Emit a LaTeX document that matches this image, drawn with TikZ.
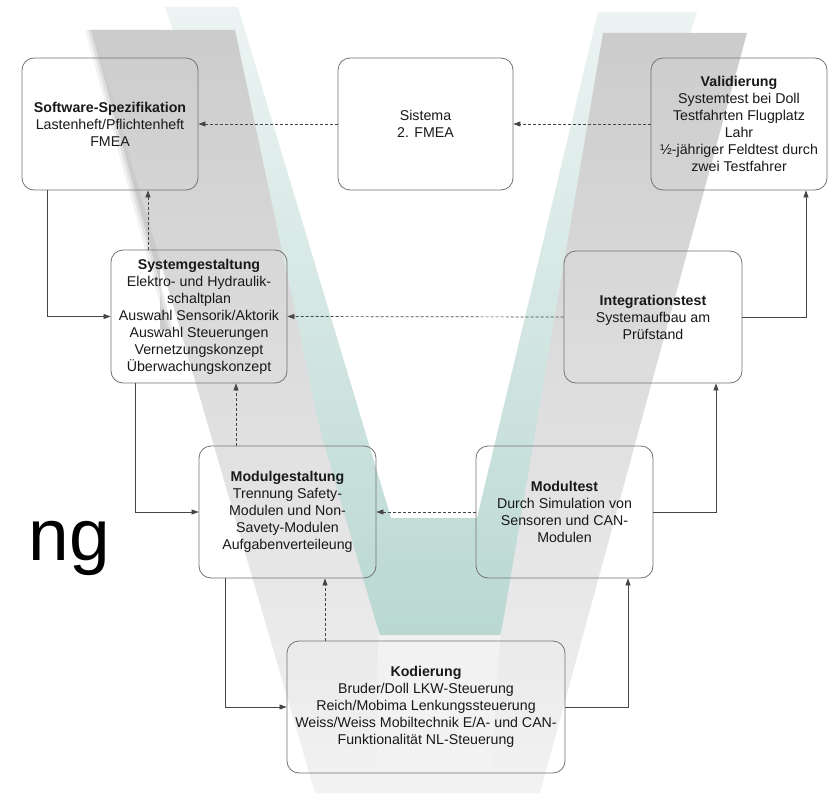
\documentclass[tikz,border=0pt]{standalone}
\usepackage{fontspec}
\setmainfont{Liberation Sans}
\usetikzlibrary{arrows.meta,calc}
\definecolor{tealV}{RGB}{186,216,210}
\definecolor{tealTop}{RGB}{236,244,243}
\definecolor{grayTop}{RGB}{204,204,204}
\definecolor{grayMid}{RGB}{224,224,224}
\definecolor{grayBot}{RGB}{242,242,242}
\definecolor{boxline}{RGB}{115,115,115}
\definecolor{txt}{RGB}{25,25,25}
\definecolor{conn}{RGB}{70,70,70}
\begin{document}
\begin{tikzpicture}[x=1pt,y=-1pt,
  box/.style={draw=boxline, line width=0.8pt, rounded corners=12pt, inner sep=2pt,
    align=center, font=\fontsize{14.2}{17}\selectfont, text=txt},
  solidc/.style={draw=conn, line width=0.7pt, -{Triangle[length=7pt,width=5pt]}},
  dashc/.style={draw=conn, line width=0.7pt, dash pattern=on 3pt off 2pt, -{Triangle[length=7pt,width=5pt]}}]
\useasboundingbox (0,0) rectangle (836,800);
\fill[white] (0,0) rectangle (836,800);
% --- V background ---
\fill[grayBot] (360,600) -- (515,600) -- (540,793) -- (315,793) -- cycle;
\shade[top color=tealTop, middle color=tealV, bottom color=tealV]
  (165,7) -- (238,7) -- (391,518) -- (477,518) -- (598,12) -- (697,12) -- (500,635) -- (380,635) -- cycle;
% soft shadow along the outer edge of the left arm
\foreach \d/\o in {8/0.05,5/0.07,2/0.09}{
  \fill[black, opacity=\o] (93-\d,30) -- (160,30) -- (160,330) -- (175-\d,330) -- cycle;
}
\shade[top color=grayTop, middle color=grayMid, bottom color=grayBot]
  (93,30) -- (235,30) -- (320,430) -- (378,630) -- (376,793) -- (315,793) -- cycle;
\shade[top color=grayTop, middle color=grayMid, bottom color=grayBot]
  (603,33) -- (747,33) -- (540,793) -- (490,793) -- (500,640) -- cycle;
% --- big text ---
\node[anchor=base east, inner sep=0, font=\fontsize{73}{73}\selectfont] (ng) at (110,560) {ng};
% --- boxes ---
\node[box, minimum width=176pt, minimum height=132pt] (sw) at (110,124)
  {\textbf{Software-Spezifikation}\\Lastenheft/Pflichtenheft\\FMEA};
\node[box, minimum width=175pt, minimum height=132pt] (sis) at (425.5,124)
  {Sistema\\2. FMEA};
\node[box, minimum width=176pt, minimum height=132pt] (val) at (739,124)
  {\textbf{Validierung}\\Systemtest bei Doll\\Testfahrten Flugplatz\\Lahr\\½-jähriger Feldtest durch\\zwei Testfahrer};
\node[box, minimum width=176pt, minimum height=133pt] (sg) at (199,316.5)
  {\textbf{Systemgestaltung}\\Elektro- und Hydraulik-\\schaltplan\\Auswahl Sensorik/Aktorik\\Auswahl Steuerungen\\Vernetzungskonzept\\Überwachungskonzept};
\node[box, minimum width=178pt, minimum height=132pt] (it) at (653,317)
  {\textbf{Integrationstest}\\Systemaufbau am\\Prüfstand};
\node[box, minimum width=177pt, minimum height=132pt] (mg) at (287.5,512)
  {\textbf{Modulgestaltung}\\Trennung Safety-\\Modulen und Non-\\Savety-Modulen\\Aufgabenverteileung};
\node[box, minimum width=177pt, minimum height=132pt] (mt) at (564.5,512)
  {\textbf{Modultest}\\Durch Simulation von\\Sensoren und CAN-\\Modulen};
\node[box, minimum width=278pt, minimum height=132pt] (ko) at (426,707)
  {\textbf{Kodierung}\\Bruder/Doll LKW-Steuerung\\Reich/Mobima Lenkungssteuerung\\Weiss/Weiss Mobiltechnik E/A- und CAN-\\Funktionalität NL-Steuerung};
% --- helper x positions ---
\coordinate (x47) at (47,0);
\coordinate (x148) at (148,0);
\coordinate (x135) at (135,0);
\coordinate (x236) at (236,0);
\coordinate (x225) at (225,0);
\coordinate (x325) at (325,0);
\coordinate (x628) at (628,0);
\coordinate (x716) at (716,0);
\coordinate (x806) at (806,0);
% --- connectors ---
\draw[dashc] (sis.west) -- (sw.east);
\draw[dashc] (val.west) -- (sis.east);
\draw[dashc] (sg.north -| x148) -- (sw.south -| x148);
\draw[solidc] (sw.south -| x47) |- (sg.west);
\draw[dashc] (it.west) -- (sg.east);
\draw[solidc] (it.east) -| (val.south -| x806);
\draw[solidc] (sg.south -| x135) |- (mg.west);
\draw[dashc] (mg.north -| x236) -- (sg.south -| x236);
\draw[dashc] (mt.west) -- (mg.east);
\draw[solidc] (mt.east) -| (it.south -| x716);
\draw[solidc] (mg.south -| x225) |- (ko.west);
\draw[dashc] (ko.north -| x325) -- (mg.south -| x325);
\draw[solidc] (ko.east) -| (mt.south -| x628);
\end{tikzpicture}
\end{document}
